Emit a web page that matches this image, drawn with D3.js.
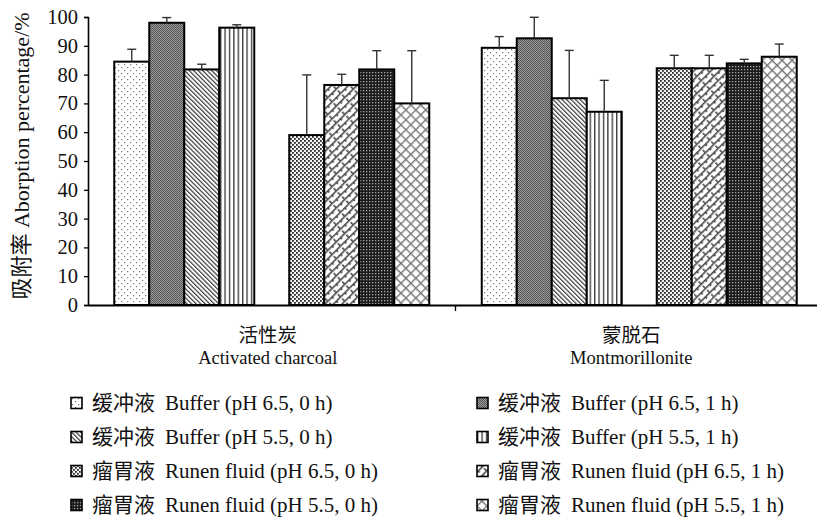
<!DOCTYPE html>
<html>
<head>
<meta charset="utf-8">
<script src="https://cdn.jsdelivr.net/npm/d3@7"></script>
<style>
  html, body { margin: 0; padding: 0; background: #fff; }
  svg { display: block; }
  text { font-family: "Liberation Serif", "Noto Sans CJK SC", serif; fill: #111; }
</style>
</head>
<body>
<svg id="chart" width="817" height="517"></svg>
<script>
// Adsorbents (x categories), Chinese and English names
const categories = ["活性炭", "蒙脱石"];
const categoriesEn = ["Activated charcoal", "Montmorillonite"];

// Treatments (series): Chinese and English parts of each name
const seriesCn = ["缓冲液", "缓冲液", "缓冲液", "缓冲液", "瘤胃液", "瘤胃液", "瘤胃液", "瘤胃液"];
const seriesEn = [
  "Buffer (pH 6.5, 0 h)",
  "Buffer (pH 6.5, 1 h)",
  "Buffer (pH 5.5, 0 h)",
  "Buffer (pH 5.5, 1 h)",
  "Runen fluid (pH 6.5, 0 h)",
  "Runen fluid (pH 6.5, 1 h)",
  "Runen fluid (pH 5.5, 0 h)",
  "Runen fluid (pH 5.5, 1 h)"
];

// Adsorption percentage (%) per series: [活性炭, 蒙脱石]
const buffer65_0h = [84.5, 89.3];
const buffer65_1h = [98.0, 92.6];
const buffer55_0h = [81.8, 71.8];
const buffer55_1h = [96.3, 67.1];
const rumen65_0h  = [59.0, 82.2];
const rumen65_1h  = [76.4, 82.2];
const rumen55_0h  = [81.8, 83.9];
const rumen55_1h  = [70.0, 86.2];

// Standard deviations (upper error bars)
const buffer65_0hSD = [4.3, 3.9];
const buffer65_1hSD = [1.8, 7.3];
const buffer55_0hSD = [1.8, 16.6];
const buffer55_1hSD = [1.0, 10.9];
const rumen65_0hSD  = [20.9, 4.5];
const rumen65_1hSD  = [3.7, 4.5];
const rumen55_0hSD  = [6.5, 1.4];
const rumen55_1hSD  = [18.3, 4.4];

const yTicks = [0, 10, 20, 30, 40, 50, 60, 70, 80, 90, 100];

const seriesValues = [buffer65_0h, buffer65_1h, buffer55_0h, buffer55_1h,
                      rumen65_0h, rumen65_1h, rumen55_0h, rumen55_1h];
const seriesSD = [buffer65_0hSD, buffer65_1hSD, buffer55_0hSD, buffer55_1hSD,
                  rumen65_0hSD, rumen65_1hSD, rumen55_0hSD, rumen55_1hSD];
// bar slots within each category: buffer bars, one empty slot, rumen bars
const slotOf = [0, 1, 2, 3, 5, 6, 7, 8];

const svg = d3.select("#chart");
const defs = svg.append("defs");

// ---- fill patterns ----
function pat(id, w, h, transform) {
  const p = defs.append("pattern").attr("id", id)
    .attr("patternUnits", "userSpaceOnUse")
    .attr("width", w).attr("height", h);
  if (transform) p.attr("patternTransform", transform);
  return p;
}
// sparse dots
{
  const p = pat("p0", 6, 6);
  p.append("rect").attr("width", 6).attr("height", 6).attr("fill", "#fff");
  p.append("rect").attr("x", 1).attr("y", 1).attr("width", 1.2).attr("height", 1.2).attr("fill", "#777");
  p.append("rect").attr("x", 4).attr("y", 4).attr("width", 1.2).attr("height", 1.2).attr("fill", "#777");
}
// mid grey fine checker
{
  const p = pat("p1", 2, 2);
  p.append("rect").attr("width", 2).attr("height", 2).attr("fill", "#9a9a9a");
  p.append("rect").attr("width", 1).attr("height", 1).attr("fill", "#555");
  p.append("rect").attr("x", 1).attr("y", 1).attr("width", 1).attr("height", 1).attr("fill", "#555");
}
// dense downward diagonal
{
  const p = pat("p2", 3.2, 10, "rotate(-45)");
  p.append("rect").attr("width", 3.2).attr("height", 10).attr("fill", "#fff");
  p.append("line").attr("x1", 0.6).attr("x2", 0.6).attr("y1", 0).attr("y2", 10)
    .attr("stroke", "#3a3a3a").attr("stroke-width", 1.2);
}
// vertical stripes
{
  const p = pat("p3", 4.4, 10);
  p.append("rect").attr("width", 4.4).attr("height", 10).attr("fill", "#fff");
  p.append("line").attr("x1", 0.7).attr("x2", 0.7).attr("y1", 0).attr("y2", 10)
    .attr("stroke", "#333").attr("stroke-width", 1.3);
}
// small staggered squares
{
  const p = pat("p4", 4, 4);
  p.append("rect").attr("width", 4).attr("height", 4).attr("fill", "#f4f4f4");
  p.append("rect").attr("x", 0).attr("y", 0).attr("width", 1.8).attr("height", 1.8).attr("fill", "#2a2a2a");
  p.append("rect").attr("x", 2).attr("y", 2).attr("width", 1.8).attr("height", 1.8).attr("fill", "#2a2a2a");
}
// diagonal brick
{
  const p = pat("p5", 12, 6, "rotate(-45)");
  p.append("rect").attr("width", 12).attr("height", 6).attr("fill", "#fff");
  p.append("line").attr("x1", 0).attr("x2", 12).attr("y1", 0.8).attr("y2", 0.8)
    .attr("stroke", "#4a4a4a").attr("stroke-width", 1.6);
  p.append("line").attr("x1", 0.8).attr("x2", 0.8).attr("y1", 0).attr("y2", 3)
    .attr("stroke", "#4a4a4a").attr("stroke-width", 1.6);
  p.append("line").attr("x1", 6.8).attr("x2", 6.8).attr("y1", 3).attr("y2", 6)
    .attr("stroke", "#4a4a4a").attr("stroke-width", 1.6);
}
// dark checkerboard
{
  const p = pat("p6", 3, 3);
  p.append("rect").attr("width", 3).attr("height", 3).attr("fill", "#1c1c1c");
  p.append("rect").attr("x", 0).attr("y", 0).attr("width", 1.3).attr("height", 1.3).attr("fill", "#a8a8a8");
}
// diamond lattice
{
  const p = pat("p7", 7, 7, "rotate(45)");
  p.append("rect").attr("width", 7).attr("height", 7).attr("fill", "#fff");
  p.append("line").attr("x1", 0.7).attr("x2", 0.7).attr("y1", 0).attr("y2", 7)
    .attr("stroke", "#777").attr("stroke-width", 1.4);
  p.append("line").attr("x1", 0).attr("x2", 7).attr("y1", 0.7).attr("y2", 0.7)
    .attr("stroke", "#777").attr("stroke-width", 1.4);
}
const fills = d3.range(8).map(i => `url(#p${i})`);

// ---- scales ----
const x0 = d3.scaleBand().domain(categories).range([88, 823]).padding(0);
const x1 = d3.scaleBand().domain(d3.range(9)).range([0, x0.bandwidth()])
  .paddingInner(0).paddingOuter(0.75);
const y = d3.scaleLinear().domain([0, 100]).range([305, 17]);

// ---- axes ----
const yAxis = svg.append("g").attr("transform", `translate(${x0.range()[0]},0)`)
  .call(d3.axisLeft(y).tickValues(yTicks).tickSize(4).tickPadding(6));
yAxis.select(".domain").attr("stroke", "#000").attr("stroke-width", 1.6);
yAxis.selectAll(".tick line").attr("stroke", "#000").attr("stroke-width", 1.3);
yAxis.selectAll(".tick text").attr("font-size", 20.5)
  .attr("font-family", "'Liberation Serif', serif").attr("fill", "#111");

// ---- bars ----
const rows = [];
seriesValues.forEach((vals, s) => {
  vals.forEach((v, c) => rows.push({ s, c, v, sd: seriesSD[s][c] }));
});

const barG = svg.append("g");
barG.selectAll("rect").data(rows).join("rect")
  .attr("x", d => x0(categories[d.c]) + x1(slotOf[d.s]))
  .attr("y", d => y(d.v))
  .attr("width", x1.bandwidth())
  .attr("height", d => y(0) - y(d.v))
  .attr("fill", d => fills[d.s])
  .attr("stroke", "#000").attr("stroke-width", 2);

// upper error bars
const errG = svg.append("g").attr("stroke", "#333").attr("stroke-width", 1.4);
const cx = d => x0(categories[d.c]) + x1(slotOf[d.s]) + x1.bandwidth() / 2;
errG.selectAll("line.stem").data(rows).join("line").attr("class", "stem")
  .attr("x1", cx).attr("x2", cx)
  .attr("y1", d => y(d.v)).attr("y2", d => y(d.v + d.sd));
errG.selectAll("line.cap").data(rows).join("line").attr("class", "cap")
  .attr("x1", d => cx(d) - 4.5).attr("x2", d => cx(d) + 4.5)
  .attr("y1", d => y(d.v + d.sd)).attr("y2", d => y(d.v + d.sd));

// x axis line and category divider ticks
const xAxis = svg.append("g").attr("transform", `translate(0,${y(0)})`)
  .call(d3.axisBottom(x0).tickValues([]).tickSizeOuter(0));
xAxis.select(".domain").attr("stroke", "#000").attr("stroke-width", 2);
xAxis.selectAll(".divider").data(categories.slice(1)).join("line")
  .attr("class", "divider")
  .attr("x1", d => x0(d)).attr("x2", d => x0(d))
  .attr("y1", 0).attr("y2", 6)
  .attr("stroke", "#000").attr("stroke-width", 1.3);

// category labels
const catG = svg.append("g").attr("text-anchor", "middle");
catG.selectAll("text.cn").data(categories).join("text").attr("class", "cn")
  .attr("x", (d, i) => x0(d) + x0.bandwidth() / 2 - 4 - i * 4)
  .attr("y", 342).attr("font-size", 19.5).text(d => d);
catG.selectAll("text.en").data(categoriesEn).join("text").attr("class", "en")
  .attr("x", (d, i) => x0(categories[i]) + x0.bandwidth() / 2 - 4 - i * 4)
  .attr("y", 364).attr("font-size", 18.5).text(d => d);

// y-axis title
svg.append("text")
  .attr("transform", "translate(29,156) rotate(-90)")
  .attr("text-anchor", "middle").attr("font-size", 22)
  .text("吸附率 Aborption percentage/%");

// ---- legend ----
const legX = [71, 477];
const legY0 = 403, legDy = 34;
const leg = svg.append("g").selectAll("g").data(seriesEn).join("g")
  .attr("transform", (d, i) => `translate(${legX[i % 2]},${legY0 + Math.floor(i / 2) * legDy})`);
leg.append("rect").attr("x", 0).attr("y", -5.5).attr("width", 11).attr("height", 11)
  .attr("fill", (d, i) => fills[i]).attr("stroke", "#000").attr("stroke-width", 1.6);
const legText = leg.append("text").attr("x", 21).attr("y", 7).attr("font-size", 21);
legText.append("tspan").text((d, i) => seriesCn[i]);
legText.append("tspan").attr("dx", 10).text(d => d);
</script>
</body>
</html>
